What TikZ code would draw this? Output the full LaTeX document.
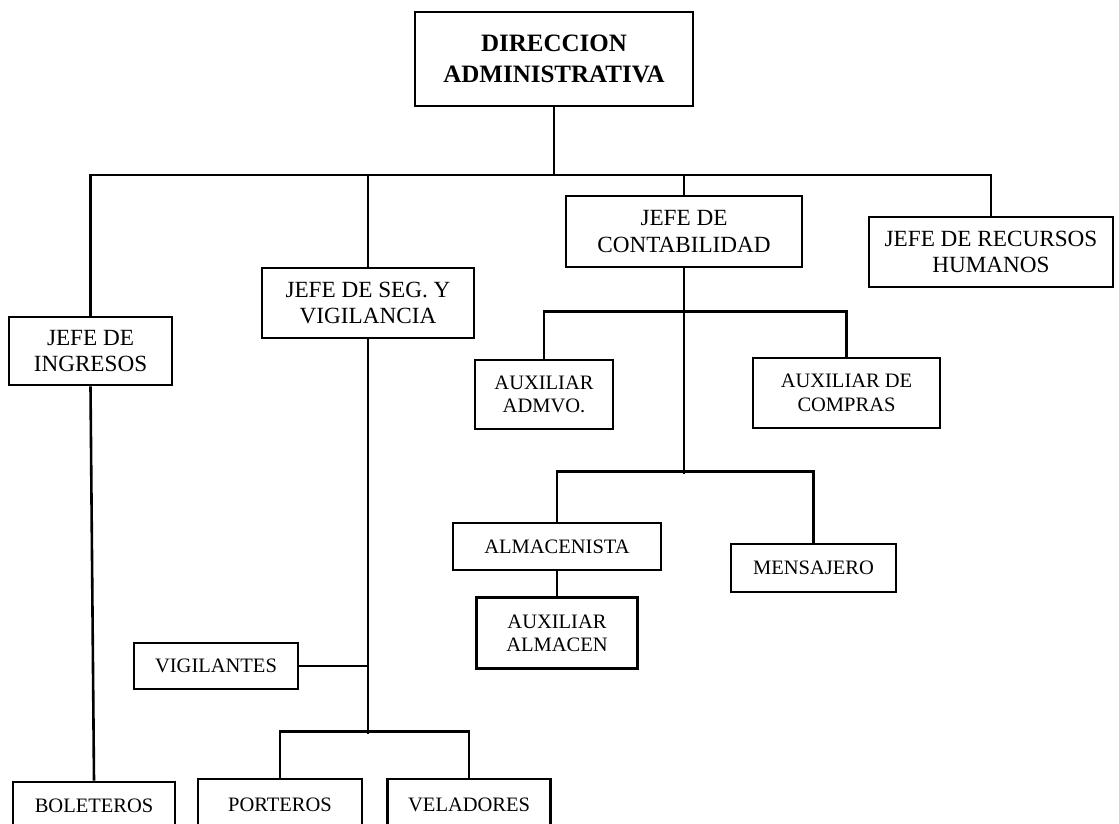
\documentclass[tikz,border=0pt]{standalone}
\usepackage{fontspec}
\setmainfont{Liberation Serif}
\usetikzlibrary{positioning}

\begin{document}
\begin{tikzpicture}[x=1pt, y=-1pt, line width=2.6pt,
    puesto/.style={draw, align=center, inner sep=0pt, font=\fontsize{20.5}{23.5}\selectfont},
    jefe/.style={puesto, font=\fontsize{23.2}{26.5}\selectfont},
    director/.style={puesto, font=\bfseries\fontsize{25}{31}\selectfont}]
  \useasboundingbox (0,0) rectangle (1119,824);
  \clip (0,0) rectangle (1119,824);

  % direccion y jefaturas
  \node[director, minimum width=278pt, minimum height=94pt] (DIR) at (554,59) {DIRECCION\\ADMINISTRATIVA};
  \node[jefe, minimum width=163pt, minimum height=68pt] (ING) at (90.5,351) {JEFE DE\\INGRESOS};
  \node[jefe, minimum width=212pt, minimum height=70pt] (SEG) at (368,303) {JEFE DE SEG. Y\\VIGILANCIA};
  \node[jefe, minimum width=236pt, minimum height=71pt] (CON) at (684,231.5) {JEFE DE\\CONTABILIDAD};
  \node[jefe, minimum width=244pt, minimum height=70pt] (RH) at (991,252) {JEFE DE RECURSOS\\HUMANOS};

  % contabilidad
  \node[puesto, minimum width=138pt, minimum height=69pt] (ADM) at (544,394.5) {AUXILIAR\\ADMVO.};
  \node[puesto, minimum width=187pt, minimum height=70pt] (COM) at (846.5,393) {AUXILIAR DE\\COMPRAS};
  \node[puesto, minimum width=208pt, minimum height=47pt] (ALM) at (557,546.5) {ALMACENISTA};
  \node[puesto, minimum width=161pt, minimum height=71pt, below=25pt of ALM] (AUXA) {AUXILIAR\\ALMACEN};
  \node[puesto, minimum width=165pt, minimum height=48pt] (MEN) at (813.5,568) {MENSAJERO};

  % seguridad e ingresos
  \node[puesto, minimum width=164pt, minimum height=46pt] (VIG) at (216,666) {VIGILANTES};
  \node[puesto, minimum width=162pt, minimum height=48pt] (BOL) at (94,806) {BOLETEROS};
  \node[puesto, minimum width=164pt, minimum height=52pt] (POR) at (280,805) {PORTEROS};
  \node[puesto, minimum width=163pt, minimum height=52pt, right=23pt of POR] (VEL) {VELADORES};

  \coordinate (bus) at (556,175);
  \draw (DIR.south) -- (DIR.south |- bus);
  \draw (ING.north) |- (RH.north |- bus) -- (RH.north);
  \draw (SEG.north) -- (SEG.north |- bus);
  \draw (CON.north) -- (CON.north |- bus);

  \draw (CON.south) -- ++(0,206);
  \draw (ADM.north) -- ++(0,-47) -| (COM.north);
  \draw (ALM.north) -- ++(0,-50) -| (MEN.north);
  \draw (ALM.south) -- (AUXA.north);

  \draw (ING.south) -- (BOL.north);
  \draw (SEG.south) -- ++(0,395);
  \draw (VIG.east) -- (VIG.east -| SEG.south);
  \draw (POR.north) -- ++(0,-46) -| (VEL.north);
\end{tikzpicture}
\end{document}
